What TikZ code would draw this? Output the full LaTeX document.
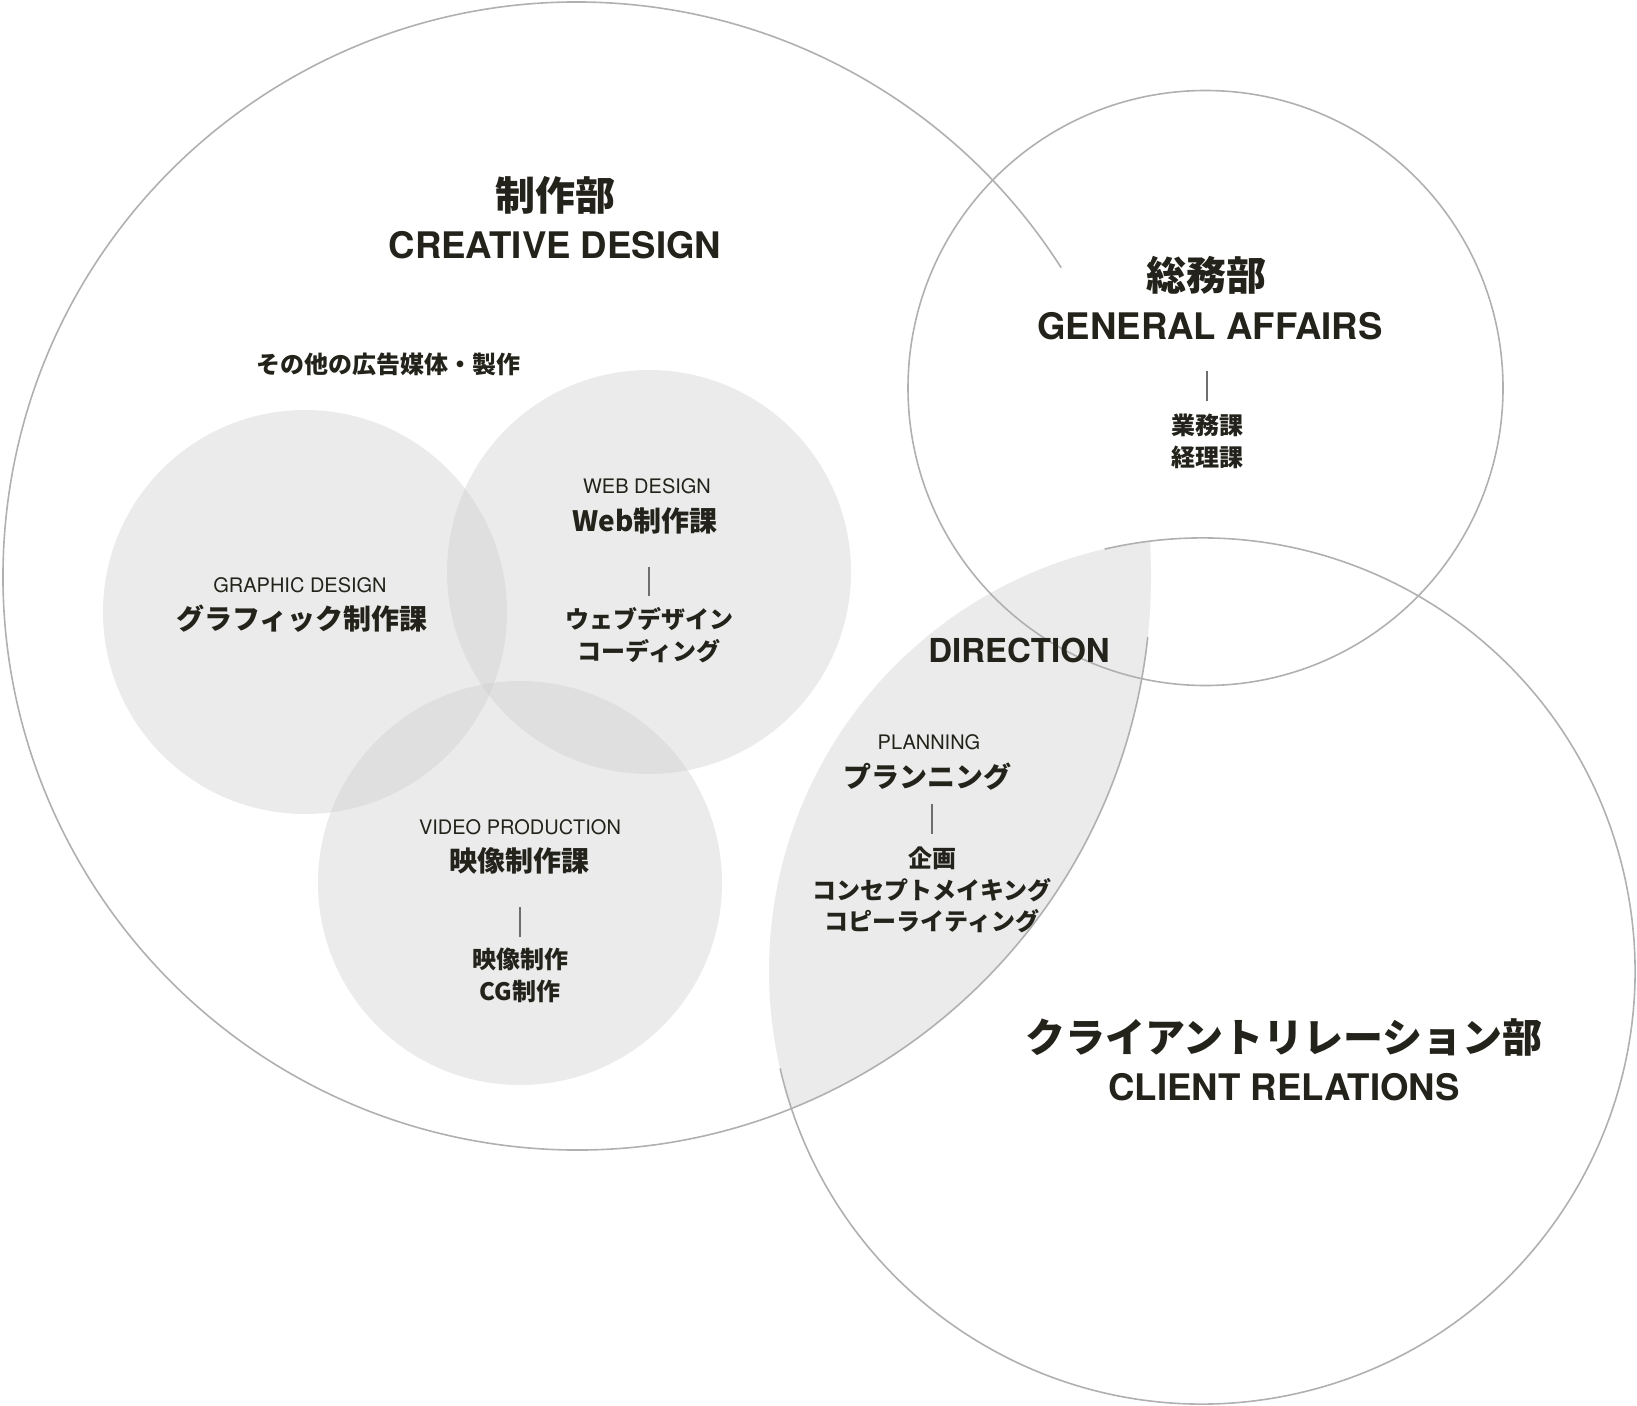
\documentclass[tikz,border=0pt]{standalone}
\usepackage{fontspec}
\setmainfont{TeX Gyre Heros}
\newfontfamily\jpfont{Noto Sans CJK JP}
\usepackage{tikz}
\usetikzlibrary{positioning}
\usepackage{xcolor}
\definecolor{inkdark}{RGB}{35,35,27}
\definecolor{ringgrey}{RGB}{176,176,176}
\definecolor{discgrey}{RGB}{205,205,205}
\definecolor{stemgrey}{RGB}{110,110,110}

\begin{document}
\begin{tikzpicture}[x=1pt,y=-1pt,
    ring/.style={draw=ringgrey,line width=1.6pt},
    disc/.style={fill=discgrey,fill opacity=0.4},
    stem/.style={draw=stemgrey,line width=1.3pt},
    dept/.style={inkdark,inner sep=0pt,font=\jpfont\bfseries\fontsize{40}{44}\selectfont},
    depten/.style={inkdark,inner sep=0pt,font=\bfseries\fontsize{36.6}{40}\selectfont},
    unit/.style={inkdark,inner sep=0pt,font=\jpfont\bfseries\fontsize{28}{32}\selectfont},
    uniten/.style={inkdark,inner sep=0pt,font=\fontsize{20}{24}\selectfont},
    item/.style={inkdark,inner sep=0pt,align=center,font=\jpfont\bfseries\fontsize{24}{31.5}\selectfont}]
    \useasboundingbox (0,0) rectangle (1637,1405);
    % Section discs
    \fill[disc] (305,612) circle[radius=202];
    \fill[disc] (649,572) circle[radius=202];
    \fill[disc] (520,883) circle[radius=202];
    % Direction lens
    \begin{scope}
      \clip (577,576) circle[radius=574];
      \fill[disc] (1202,971) circle[radius=433];
    \end{scope}
    % Department rings (open where they overlap)
    \draw[ring] ([shift={(6.1:574)}]577,576)
      arc[start angle=6.1,end angle=327.5,radius=574];
    \draw[ring] (1205.5,388) circle[radius=297.5];
    \draw[ring] ([shift={(167:433)}]1202,971)
      arc[start angle=167,end angle=-103,radius=433];
    % Creative design
    \node[dept] (cdjp) at (555,195) {制作部};
    \node[depten] (cden) at (555,245) {CREATIVE DESIGN};
    \node[item] (other) at (388,364) {その他の広告媒体・製作};
    % General affairs
    \node[dept] (gajp) at (1206,275) {総務部};
    \node[depten] (gaen) at (1210,326) {GENERAL AFFAIRS};
    \node[item] (gaitems) at (1207,441.5) {業務課\\経理課};
    \draw[stem] (gaitems.north) ++(0,-13) -- ++(0,-30);
    % Graphic design
    \node[uniten] (gden) at (300,585) {GRAPHIC DESIGN};
    \node[unit] (gdjp) at (302,619) {グラフィック制作課};
    % Web design
    \node[uniten] (wden) at (647,486.5) {WEB DESIGN};
    \node[unit] (wdjp) at (645,521) {Web制作課};
    \node[item] (wditems) at (649,635) {ウェブデザイン\\コーディング};
    \draw[stem] (wditems.north) ++(0,-11) -- ++(0,-29);
    % Video production
    \node[uniten] (vpen) at (520,827) {VIDEO PRODUCTION};
    \node[unit] (vpjp) at (519,861) {映像制作課};
    \node[item] (vpitems) at (520,975.6) {映像制作\\CG制作};
    \draw[stem] (vpitems.north) ++(0,-11) -- ++(0,-30);
    % Direction
    \node[depten,font=\bfseries\fontsize{33}{36}\selectfont] (dir) at (1019,650) {DIRECTION};
    \node[uniten] (plen) at (929,741.7) {PLANNING};
    \node[unit] (pljp) at (927,776.7) {プランニング};
    \node[item] (plitems) at (932,890) {企画\\コンセプトメイキング\\コピーライティング};
    \draw[stem] (plitems.north) ++(0,-13) -- ++(0,-30);
    % Client relations
    \node[dept] (crjp) at (1284,1037) {クライアントリレーション部};
    \node[depten] (cren) at (1284,1087) {CLIENT RELATIONS};
\end{tikzpicture}
\end{document}
